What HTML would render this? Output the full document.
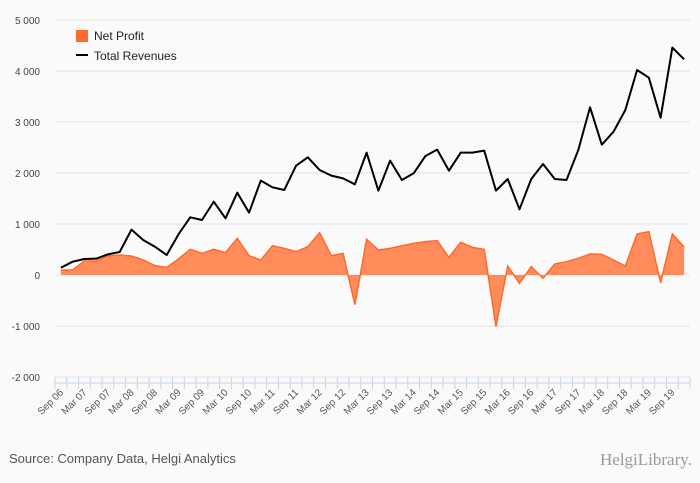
<!DOCTYPE html>
<html><head><meta charset="utf-8"><style>
body{margin:0;background:#fafafa;}
svg{display:block;font-family:"Liberation Sans",sans-serif;}
</style></head><body>
<svg id="chart" width="700" height="483">
<rect width="700" height="483" fill="#fafafa"/>
<g id="grid"></g>
<g id="series"></g>
<g id="xaxis"></g>
<g>
<rect x="76" y="30" width="12" height="12" fill="#ff6a2b"/>
<text x="94" y="40" font-size="12" fill="#222">Net Profit</text>
<rect x="76" y="54" width="12" height="2" fill="#000"/>
<text x="94" y="60" font-size="12" fill="#222">Total Revenues</text>
</g>
<text x="9" y="463" font-size="13" fill="#555">Source: Company Data, Helgi Analytics</text>
<text x="600" y="465" font-size="17" fill="#999" font-family="Liberation Serif,serif">HelgiLibrary.</text>
</svg>
<script>
const revenues=[143,261,314,320,405,451,889,686,555,392,797,1131,1078,1438,1111,1614,1222,1850,1719,1667,2144,2307,2059,1948,1895,1778,2399,1654,2242,1863,1994,2333,2458,2046,2399,2399,2438,1654,1882,1288,1882,2176,1882,1863,2451,3288,2556,2811,3235,4020,3869,3085,4458,4229];
const netProfit=[98,98,275,275,373,392,373,294,183,150,314,503,425,503,438,719,379,294,575,523,458,555,830,379,425,-580,699,490,523,575,621,654,673,346,641,542,503,-1013,176,-163,163,-65,216,261,327,412,405,294,176,804,850,-150,804,548];
const yTicks=[-2000,-1000,0,1000,2000,3000,4000,5000];
const tickLabels=["-2 000","-1 000","0","1 000","2 000","3 000","4 000","5 000"];
const NS="http://www.w3.org/2000/svg";
const n=revenues.length;
const L=55,R=690,step=(R-L)/n;
const xs=i=>L+step*(i+0.5);
const ys=v=>275-v*0.051;
function mk(t,a,p){const e=document.createElementNS(NS,t);for(const k in a)e.setAttribute(k,a[k]);p.appendChild(e);return e;}
const grid=document.getElementById('grid');
yTicks.forEach((v,i)=>{
  const l=mk('line',{x1:L,x2:R,y1:ys(v),y2:ys(v),stroke:'#e3e3e3','stroke-width':1},grid);
  
  
  const t=mk('text',{x:40,y:ys(v)+4,'text-anchor':'end','font-size':10,fill:'#444'},grid);
  t.textContent=tickLabels[i];
  
  
});
const ser=document.getElementById('series');
let d='M'+xs(0)+','+ys(0);
netProfit.forEach((v,i)=>d+=' L'+xs(i)+','+ys(v));
d+=' L'+xs(netProfit.length-1)+','+ys(0)+'Z';
const area=mk('path',{d:d,fill:'#ff8c5a',stroke:'none'},ser);


const pl=mk('polyline',{points:netProfit.map((v,i)=>xs(i)+','+ys(v)).join(' '),fill:'none',stroke:'#ff6a2b','stroke-width':1.5},ser);


const rl=mk('polyline',{points:revenues.map((v,i)=>xs(i)+','+ys(v)).join(' '),fill:'none',stroke:'#000','stroke-width':2,'stroke-linejoin':'round'},ser);


const xa=document.getElementById('xaxis');
const ax=mk('line',{x1:L,x2:R,y1:383,y2:383,stroke:'#c8d4e6'},xa);


for(let i=0;i<=n;i++){
  const tk=mk('line',{x1:L+step*i,x2:L+step*i,y1:377,y2:389,stroke:'#c8d4e6'},xa);
  
  
}
for(let i=0;i<n;i+=2){
  const q=i/2; const yr=6+Math.floor((q+1)/2); const m=q%2===0?'Sep':'Mar';
  const lab=m+' '+String(yr).padStart(2,'0');
  const x=xs(i)+3,y=393;
  const t=mk('text',{x:x,y:y,'text-anchor':'end','font-size':10,fill:'#555',transform:'rotate(-45 '+x+' '+y+')'},xa);
  t.textContent=lab;
  
  
}
</script>
</body></html>
